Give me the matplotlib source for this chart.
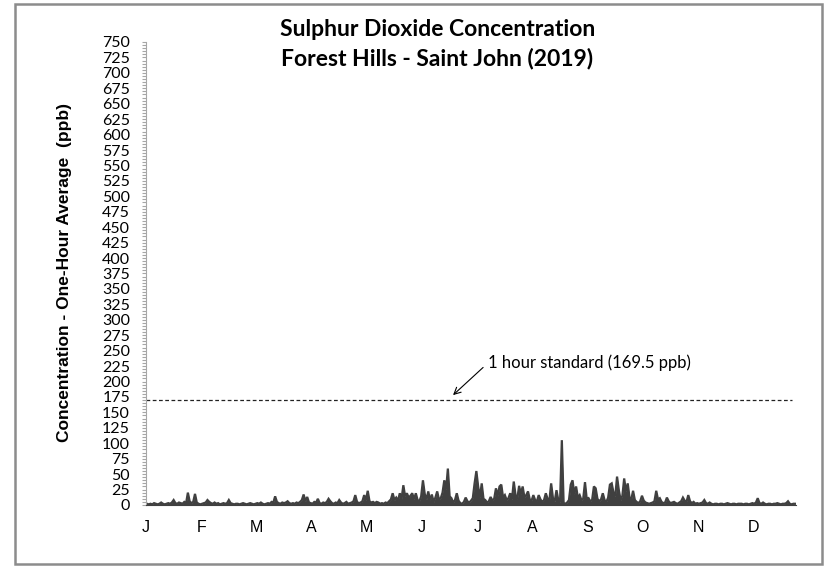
import numpy as np
import matplotlib
matplotlib.use('Agg')
import matplotlib.pyplot as plt
from matplotlib.patches import Rectangle
from matplotlib.ticker import MultipleLocator

# Daily peak SO2 (ppb), one list per month
jan = [2, 1, 2, 1, 3, 2, 1, 2, 4, 2, 1, 2, 3, 2, 4, 8, 3, 2, 4, 3, 2, 5, 3, 20, 6, 3, 5, 18, 4, 2, 1]
feb = [2, 3, 4, 8, 5, 3, 2, 4, 2, 3, 1, 2, 3, 2, 3, 8, 3, 2, 1, 2, 2, 1, 2, 3, 2, 1, 2, 3]
mar = [2, 1, 2, 3, 2, 4, 2, 1, 2, 3, 2, 5, 4, 14, 5, 3, 2, 4, 3, 4, 6, 3, 2, 3, 2, 4, 3, 5, 8, 17, 6]
apr = [13, 4, 3, 2, 5, 4, 10, 3, 2, 4, 3, 5, 10, 6, 3, 2, 4, 3, 8, 4, 2, 3, 5, 2, 3, 4, 6, 16, 5, 3]
may = [4, 6, 16, 8, 23, 6, 4, 5, 3, 5, 4, 2, 3, 2, 4, 3, 6, 9, 19, 8, 12, 7, 19, 10, 32, 14, 19, 12, 15, 19, 9]
jun = [19, 8, 6, 14, 40, 18, 9, 22, 7, 17, 5, 12, 22, 9, 11, 20, 40, 25, 59, 14, 11, 4, 8, 19, 7, 3, 2, 5, 12, 6]
jul = [4, 7, 11, 35, 55, 30, 12, 35, 10, 8, 4, 6, 13, 7, 10, 27, 15, 30, 33, 12, 16, 8, 11, 19, 9, 38, 16, 10, 31, 18, 30]
aug = [12, 16, 22, 9, 7, 16, 8, 6, 16, 9, 5, 8, 19, 10, 7, 35, 11, 6, 24, 8, 5, 105, 3, 2, 4, 8, 33, 40, 18, 30, 12]
sep = [16, 8, 10, 37, 9, 11, 6, 8, 30, 27, 10, 6, 9, 19, 8, 5, 12, 33, 35, 20, 14, 46, 24, 8, 15, 43, 22, 35, 12, 9]
oct_ = [23, 8, 5, 3, 6, 15, 7, 4, 3, 2, 3, 4, 6, 23, 9, 11, 5, 3, 4, 12, 6, 3, 4, 5, 3, 2, 4, 6, 12, 7, 5]
nov = [16, 6, 3, 5, 2, 3, 2, 3, 4, 8, 3, 2, 4, 2, 1, 2, 2, 1, 2, 2, 1, 2, 3, 2, 1, 2, 2, 1, 2, 2]
dec = [2, 1, 2, 2, 1, 2, 3, 2, 4, 11, 3, 2, 4, 2, 1, 2, 2, 1, 2, 2, 3, 2, 1, 2, 2, 3, 6, 2, 1, 2, 2]

month_labels = ['J', 'F', 'M', 'A', 'M', 'J', 'J', 'A', 'S', 'O', 'N', 'D']
standard = 169.5
standard_label = '1 hour standard (169.5 ppb)'

values = np.array(jan + feb + mar + apr + may + jun + jul + aug + sep + oct_ + nov + dec, dtype=float)
days = np.arange(len(values)) + 0.5

fig = plt.figure(figsize=(8.33, 5.66), dpi=100)
ax = fig.add_axes([0.1753, 0.1078, 0.7803, 0.818])

dark = '#404040'
ax.fill_between(days, 0, values, color=dark, lw=0)
ax.plot(days, values, color=dark, lw=1.6, solid_joinstyle='miter')
ax.plot([0, 362.7], [standard, standard], color='#222222', lw=0.9, ls=(0, (3, 2)))

ax.annotate(standard_label, xy=(172.4, 178), xytext=(192, 230),
            fontsize=12, family='Lato', va='center', ha='left',
            arrowprops=dict(arrowstyle='->', color='black', lw=0.8,
                            relpos=(0, 0.5), shrinkA=2, shrinkB=0))

ax.set_xlim(0, 365)
ax.set_ylim(0, 750)
ax.yaxis.set_major_locator(MultipleLocator(25))
ax.yaxis.set_minor_locator(MultipleLocator(5))
ax.set_xticks(np.arange(12) * 31)
ax.set_xticklabels(month_labels, family='Liberation Sans', fontsize=11.5)

for lab in ax.get_yticklabels():
    lab.set_family('Lato')
    lab.set_fontsize(11.5)

ax.tick_params(axis='y', which='major', length=3, width=0.8, color='#a6a6a6', pad=8.5)
ax.tick_params(axis='y', which='minor', length=3, width=0.8, color='#a6a6a6')
ax.tick_params(axis='x', length=0, pad=11)

for s in ['top', 'right']:
    ax.spines[s].set_visible(False)
ax.spines['left'].set_color('#a6a6a6')
ax.spines['bottom'].set_color(dark)

fig.text(0.078, 0.518, 'Concentration - One-Hour Average  (ppb)', rotation=90,
         ha='center', va='center', family='Liberation Sans', weight='bold', fontsize=12.5)

fig.text(0.525, 0.947, 'Sulphur Dioxide Concentration', ha='center', va='center',
         family='Lato', weight='bold', fontsize=16.5)
fig.text(0.525, 0.896, 'Forest Hills - Saint John (2019)', ha='center', va='center',
         family='Lato', weight='bold', fontsize=16.5)

# outer chart frame
fig.patches.append(Rectangle((15 / 833, 1 - 564 / 566), 807 / 833, 560 / 566,
                             transform=fig.transFigure, fill=False,
                             edgecolor='#8c8c8c', lw=1.8))

fig.savefig('out.png', dpi=100)
